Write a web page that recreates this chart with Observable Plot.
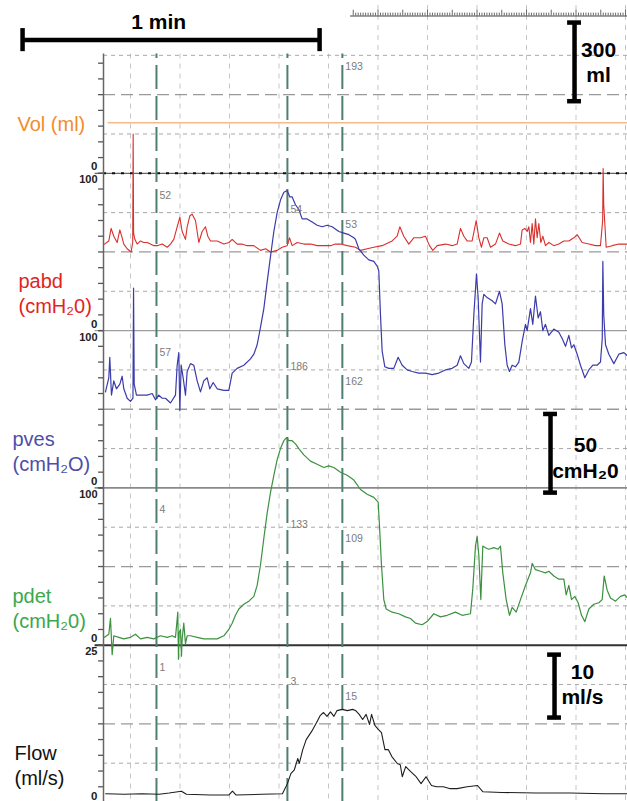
<!DOCTYPE html>
<html>
<head>
<meta charset="utf-8">
<script src="https://cdn.jsdelivr.net/npm/d3@7"></script>
<script src="https://cdn.jsdelivr.net/npm/@observablehq/plot@0.6"></script>
<style>
html,body{margin:0;padding:0;background:#fff;}
#chart{width:627px;height:801px;overflow:hidden;}
#chart svg{display:block;}
</style>
</head>
<body>
<div id="chart"></div>
<script>
// ---------------- data ----------------
const timeDomain = [4.55, 110.4];              // seconds shown
const gridTimes = [10, 20, 30, 40, 50, 60, 70, 80, 90, 100, 110];
const eventTimes = [15.25, 41.7, 52.8];        // cursor lines
const eventVol  = [null, null, 193];
const eventPabd = [52, 54, 53];
const eventPves = [57, 186, 162];
const eventPdet = [4, 133, 109];
const eventFlow = [1, 3, 15];

const channelNames = ["vol", "pabd", "pves", "pdet", "flow"];
const channelMax = [600, 100, 100, 100, 25];
const channelTickStep = [60, 10, 10, 10, 2.5];
const channelTopLabel = [null, "100", "100", "100", "25"];
const channelLabelLines = [["Vol (ml)"], ["pabd", "(cmH₂0)"], ["pves", "(cmH₂O)"], ["pdet", "(cmH₂0)"], ["Flow", "(ml/s)"]];

const minuteBar = 60;          // s
const volBar = [275, 575];     // 300 ml
const pvesBar = [-3, 47];      // 50 cmH2O
const flowBar = [13.5, 23.5];  // 10 ml/s

const vol = [[5.5,193],[110.4,193]];

const pabd = [[4.75,55],[5.62,57],[6.09,65],[6.63,60],[7.31,56],[7.85,64],[8.32,59],[8.65,55],[9.33,52],[10.13,50],[10.45,56],[10.54,125],[10.63,62],[10.88,58],[11.35,55],[12.02,57],[12.69,56],[13.37,56],[14.04,55],[14.71,54],[15.39,54],[16.4,55],[17.41,53],[18.08,55],[18.75,58],[19.43,66],[19.97,72],[20.44,63],[21.11,58],[21.45,66],[21.99,73],[22.46,74],[23.13,70],[23.8,56],[24.48,63],[25.15,66],[25.62,60],[26.16,57],[27.51,57],[28.86,55],[29.9,56],[30.54,58],[31.55,55],[32.5,55],[33.57,54],[34.92,54],[36.26,51],[37.3,52],[38.28,50],[39.63,51],[40.64,53],[41.65,54],[42.12,59],[42.66,54],[43.67,56],[45.02,55],[46.4,55],[47.71,54],[49.06,54],[50.4,54],[51.4,55],[52.42,55],[53.77,54],[55.45,53],[56.46,51],[57.81,52],[59.15,53],[60.84,54],[62.86,57],[63.87,60],[64.41,66],[65.21,60],[66.22,55],[67.23,59],[68.58,59],[69.59,60],[70.4,54],[71.07,51],[71.95,54],[73.63,55],[74.98,54],[75.99,55],[76.66,65],[77.34,60],[78.01,57],[79.02,57],[79.83,70],[80.37,59],[80.9,53],[81.38,59],[82.05,59],[82.72,53],[83.73,55],[84.54,62],[85.21,57],[86.43,55],[87.77,54],[88.78,55],[89.12,64],[89.66,65],[90.13,63],[90.47,66],[90.8,56],[91.14,68],[91.48,55],[91.81,71],[92.15,59],[92.49,68],[92.89,56],[93.3,60],[93.83,54],[94.51,56],[95.52,54],[96.53,55],[97.54,57],[98.55,57],[99.56,59],[100.23,61],[101.24,56],[102.59,55],[103.93,54],[104.94,54],[105.38,70],[105.48,103],[105.6,80],[106.09,53],[107.3,54],[108.65,55],[110.4,55]];

const pves = [[4.95,61],[5.62,70],[5.82,83],[6.16,59],[6.63,68],[7.17,63],[7.85,66],[8.32,71],[8.65,63],[9.33,57],[10.0,55],[10.5,57],[10.62,127],[10.75,66],[11.21,59],[12.02,59],[13.37,59],[14.38,60],[15.05,56],[15.72,59],[16.4,57],[17.07,57],[18.08,54],[19.09,59],[19.43,78],[19.76,86],[19.97,49],[20.24,78],[20.64,70],[21.11,59],[21.45,74],[22.12,79],[22.79,78],[23.47,68],[24.14,61],[24.81,68],[25.49,70],[26.03,63],[26.7,67],[27.51,63],[28.86,62],[29.87,62],[30.54,73],[31.55,76],[32.9,78],[34.24,82],[34.92,85],[35.59,91],[36.26,102],[36.94,114],[37.61,131],[38.28,147],[38.96,163],[39.63,175],[40.3,183],[40.98,188],[41.65,189],[42.19,185],[42.66,185],[43.33,180],[44.01,177],[44.68,171],[45.69,171],[46.7,169],[47.71,167],[48.72,166],[49.73,167],[50.74,166],[52.09,163],[53.1,162],[54.11,161],[55.12,159],[55.45,158],[56.12,152],[57.13,148],[58.14,145],[59.15,144],[59.83,141],[60.16,138],[60.5,110],[60.84,87],[61.38,77],[62.18,76],[63.19,76],[64.07,83],[64.88,78],[65.89,75],[66.9,74],[68.24,73],[69.59,73],[70.94,72],[72.28,73],[73.63,75],[74.98,76],[75.99,78],[76.66,84],[77.34,79],[78.35,76],[78.88,80],[79.36,110],[79.89,136],[80.23,121],[80.7,80],[81.04,117],[81.38,123],[82.05,121],[83.06,119],[83.73,117],[84.54,125],[85.08,117],[85.62,91],[86.09,78],[86.56,74],[87.1,78],[87.77,77],[88.45,80],[89.12,93],[89.79,104],[90.13,100],[90.8,114],[91.27,104],[91.81,122],[92.35,108],[92.82,112],[93.3,100],[93.83,104],[94.51,97],[95.52,101],[96.53,99],[97.2,95],[97.88,90],[98.55,97],[99.09,89],[99.56,91],[100.23,85],[100.9,78],[101.78,70],[102.59,75],[103.4,78],[104.27,78],[104.94,80],[105.3,95],[105.42,144],[105.6,110],[105.96,91],[106.63,85],[107.64,79],[108.65,85],[109.66,86],[110.4,84]];

const pdet = [[4.75,5],[5.62,7],[5.96,17],[6.3,-6],[6.63,6],[7.64,5],[8.65,4],[10.0,5],[11.01,7],[12.02,4],[13.37,5],[14.71,4],[16.06,6],[17.41,5],[18.42,6],[19.09,5],[19.56,21],[19.7,-9],[19.83,8],[20.1,10],[20.3,-7],[20.44,4],[20.77,14],[21.11,1],[21.45,6],[22.12,6],[23.47,5],[24.81,4],[26.16,4],[27.51,4],[28.86,6],[29.87,10],[30.54,14],[31.21,19],[31.89,23],[32.9,26],[33.91,28],[34.92,31],[35.59,38],[36.26,51],[36.94,68],[37.61,84],[38.28,97],[38.96,108],[39.63,118],[40.3,125],[40.98,130],[41.52,132],[41.99,130],[42.66,130],[43.33,128],[44.01,125],[45.02,121],[46.36,117],[47.71,115],[49.06,113],[50.07,114],[51.08,113],[52.42,110],[53.77,108],[55.12,105],[56.46,99],[57.81,96],[59.15,94],[60.03,91],[60.3,76],[60.7,51],[61.17,29],[61.65,23],[62.86,21],[64.2,20],[65.55,18],[66.56,17],[67.57,14],[68.92,13],[69.93,15],[71.27,20],[72.62,18],[73.97,19],[75.65,21],[77.0,19],[78.68,20],[79.15,36],[79.69,63],[80.03,69],[80.37,57],[80.77,29],[81.17,63],[81.71,62],[82.39,61],[83.4,62],[84.27,61],[84.74,63],[85.21,46],[85.89,29],[86.56,19],[87.1,24],[87.91,21],[88.78,29],[89.79,38],[90.8,46],[91.14,52],[91.81,48],[92.82,47],[93.83,46],[94.51,47],[95.52,44],[96.53,42],[97.54,42],[98.01,32],[98.55,38],[99.09,29],[99.76,31],[100.43,27],[101.11,19],[101.78,15],[102.59,23],[103.6,26],[104.61,27],[105.28,29],[105.69,44],[106.29,35],[106.97,30],[107.98,28],[108.99,31],[109.86,32],[110.4,30]];

const flow = [[5.0,1.4],[8.8,1.3],[12.3,1.4],[15.8,1.3],[17.8,1.5],[20.3,1.8],[21.3,1.3],[26.1,1.2],[29.9,1.2],[30.6,1.8],[31.3,1.2],[36.5,1.3],[40.7,1.4],[41.7,3.0],[42.4,4.6],[43.1,5.2],[43.8,7.0],[44.1,6.2],[44.8,8.4],[45.5,10.0],[46.6,11.3],[47.6,12.7],[48.3,13.8],[49.0,14.3],[49.7,13.7],[50.4,14.4],[51.1,13.7],[51.7,14.6],[52.8,14.8],[53.8,14.6],[54.9,14.8],[55.5,14.6],[56.2,14.0],[56.9,13.2],[57.6,14.0],[58.3,12.4],[58.7,14.0],[59.4,12.2],[60.1,11.6],[60.7,11.1],[61.4,8.4],[62.1,8.4],[62.8,7.3],[63.9,6.2],[64.5,6.0],[64.9,4.1],[65.6,5.7],[66.6,4.9],[67.7,4.1],[68.7,3.0],[69.7,4.1],[70.8,2.7],[71.8,2.5],[73.2,2.5],[74.6,2.2],[76.0,2.2],[78.0,2.5],[80.1,2.7],[81.2,1.7],[85.0,1.6],[91.9,1.5],[98.8,1.5],[105.7,1.4],[110.4,1.4]];

// ---------------- layout helpers ----------------
const FONT = "'Liberation Sans', Arial, Helvetica, sans-serif";
const ML = 103;                                   // left margin (axis position)
const base = {vol: 4, pabd: 3, pves: 2, pdet: 1, flow: 0};
const maxOf = Object.fromEntries(channelNames.map((k, i) => [k, channelMax[i]]));
const Y = (k, v) => base[k] + v / maxOf[k];       // panel-stacked y units
const t0 = timeDomain[0], t1 = timeDomain[1];
const axisTop = Y("vol", 455);
const gridTop = t => t < 54 ? axisTop : Y("vol", 640);

const trace = (data, k, color, w) => Plot.line(data, {
  x: d => d[0], y: d => Y(k, d[1]), stroke: color, strokeWidth: w, strokeLinejoin: "round"
});

const quarterRows = channelNames.flatMap(k => [0.25, 0.75].map(q => base[k] + q));
const halfRows = channelNames.map(k => base[k] + 0.5);
const tickRows = channelNames.flatMap((k, i) =>
  d3.range(0, (k === "vol" ? 420 : channelMax[i]) + 1e-9, channelTickStep[i]).map(v => Y(k, v)));
const zeroLabels = channelNames.map(k => ({y: base[k], text: "0"}));
const topLabels = channelNames.map((k, i) => ({y: base[k] + 1, text: channelTopLabel[i]})).filter(d => d.text);

const readings = {vol: eventVol, pabd: eventPabd, pves: eventPves, pdet: eventPdet, flow: eventFlow};
const cursorOffset = [0.14, 0.232, 0.324];
const cursorRows = [];
channelNames.forEach(k => eventTimes.forEach((t, i) => {
  const v = readings[k][i];
  if (v != null) cursorRows.push({t, y: base[k] + 1 - cursorOffset[i], text: String(v)});
}));

const labelColors = ["#f28c2e", "#e3231d", "#4e4ea8", "#3aa84d", "#111"];
const labelLeft = [17, 18, 12, 12, 14];
const labelMarks = channelNames.map((k, i) => Plot.text(
  channelLabelLines[i].map((text, j) => ({text, y: base[k] + (j === 0 ? 0.31 : 0.15)})),
  {x: () => t0, y: "y", text: "text", dx: labelLeft[i] - ML, textAnchor: "start",
   fill: labelColors[i], fontSize: 20, fontFamily: FONT}));

const barStart = -11.8;              // start of 1-min bar (s)
const volBarT = 99.7, pvesBarT = 94.85, flowBarT = 95.66, capHalf = 1.4;
const bold = {fill: "#000", fontSize: 21, fontWeight: "bold", fontFamily: FONT};
const barStyle = {stroke: "#000", strokeWidth: 4.5};
const vBar = (t, k, r) => [
  Plot.ruleX([t], {x: d => d, y1: () => Y(k, r[0]), y2: () => Y(k, r[1]), ...barStyle}),
  Plot.ruleY(r, {y: d => Y(k, d), x1: () => t - capHalf, x2: () => t + capHalf, ...barStyle})
];
const rulerTicks = d3.range(55, 110.5, 0.5);

const chart = Plot.plot({
  width: 627, height: 801,
  marginLeft: ML, marginRight: 0, marginTop: 0, marginBottom: 0,
  x: {domain: timeDomain, axis: null},
  y: {domain: [0, 5], range: [802, 15.5], axis: null},
  style: {background: "#fff", fontFamily: FONT, overflow: "visible"},
  marks: [
    // grid
    Plot.ruleX(gridTimes, {x: d => d, y1: d => gridTop(d), y2: () => 0, stroke: "#c6c6c6", strokeWidth: 1, strokeDasharray: "5,5"}),
    Plot.ruleY(quarterRows, {y: d => d, stroke: "#a8a8a8", strokeWidth: 1, strokeDasharray: "4,4"}),
    Plot.ruleY(halfRows, {y: d => d, stroke: "#999", strokeWidth: 1.3, strokeDasharray: "12,6"}),
    // panel boundaries
    Plot.ruleY([3], {y: d => d, x1: () => t0 - 1.7, x2: () => t1, stroke: "#9c9c9c", strokeWidth: 1.3}),
    Plot.ruleY([2], {y: d => d, x1: () => t0 - 1.7, x2: () => t1, stroke: "#8a8a8a", strokeWidth: 1.6}),
    Plot.ruleY([1], {y: d => d, x1: () => t0 - 1.7, x2: () => t1, stroke: "#333", strokeWidth: 2}),
    Plot.ruleY([4], {y: d => d, x1: () => t0 - 1.7, x2: () => t1, stroke: "#666", strokeWidth: 1.3}),
    Plot.ruleY([4], {y: d => d, x1: () => t0, x2: () => t1, stroke: "#111", strokeWidth: 2, strokeDasharray: "3,6"}),
    // left axis
    Plot.ruleX([t0], {x: d => d, y1: () => 0, y2: () => axisTop, stroke: "#666", strokeWidth: 1.5}),
    Plot.ruleY(tickRows, {y: d => d, x1: () => t0 - 1.0, x2: () => t0, stroke: "#555", strokeWidth: 1.3}),
    Plot.text(zeroLabels, {x: () => t0, y: "y", text: "text", dx: -6, dy: -6.5, textAnchor: "end", fontSize: 11.5, fontWeight: "bold", fill: "#222"}),
    Plot.text(topLabels, {x: () => t0, y: "y", text: "text", dx: -6, dy: 6.5, textAnchor: "end", fontSize: 11, fontWeight: "bold", fill: "#222"}),
    // top ruler
    Plot.ruleY([Y("vol", 600)], {y: d => d, x1: () => 54.45, x2: () => t1, stroke: "#444", strokeWidth: 1}),
    Plot.ruleX(rulerTicks, {x: d => d, y1: () => Y("vol", 600), y2: d => Y("vol", d % 5 === 0 ? 622 : 611), stroke: "#444", strokeWidth: 0.8}),
    // volume
    trace(vol, "vol", "#f6b987", 1.6),
    // event cursors
    Plot.ruleX(eventTimes, {x: d => d, y1: () => 0, y2: () => axisTop, stroke: "#4f7e72", strokeWidth: 2, strokeDasharray: "24,7"}),
    // traces
    trace(pabd, "pabd", "#d8302c", 1.1),
    trace(pves, "pves", "#3b3bab", 1.2),
    trace(pdet, "pdet", "#3b913e", 1.2),
    trace(flow, "flow", "#1e1e1e", 1.1),
    // cursor readouts
    Plot.text(cursorRows, {x: "t", y: "y", text: "text", dx: 3, textAnchor: "start", fontSize: 10.5, fill: "#7c7c7c"}),
    // channel labels
    ...labelMarks,
    // scale bars
    Plot.ruleY([Y("vol", 508)], {y: d => d, x1: () => barStart, x2: () => barStart + minuteBar, ...barStyle}),
    Plot.ruleX([barStart, barStart + minuteBar], {x: d => d, y1: () => Y("vol", 464), y2: () => Y("vol", 552), ...barStyle}),
    Plot.text(["1 min"], {x: () => barStart + 27.5, y: () => Y("vol", 576), text: d => d, ...bold}),
    ...vBar(volBarT, "vol", volBar),
    Plot.text(["300"], {x: () => 104.55, y: () => Y("vol", 470), text: d => d, ...bold}),
    Plot.text(["ml"], {x: () => 104.55, y: () => Y("vol", 373), text: d => d, ...bold}),
    ...vBar(pvesBarT, "pves", pvesBar),
    Plot.text(["50"], {x: () => 101.9, y: () => Y("pves", 27.3), text: d => d, ...bold}),
    Plot.text(["cmH₂0"], {x: () => 101.9, y: () => Y("pves", 10.7), text: d => d, ...bold}),
    ...vBar(flowBarT, "flow", flowBar),
    Plot.text(["10"], {x: () => 101.3, y: () => Y("flow", 20.7), text: d => d, ...bold}),
    Plot.text(["ml/s"], {x: () => 101.3, y: () => Y("flow", 16.8), text: d => d, ...bold})
  ]
});
document.getElementById("chart").append(chart);
</script>
</body>
</html>
